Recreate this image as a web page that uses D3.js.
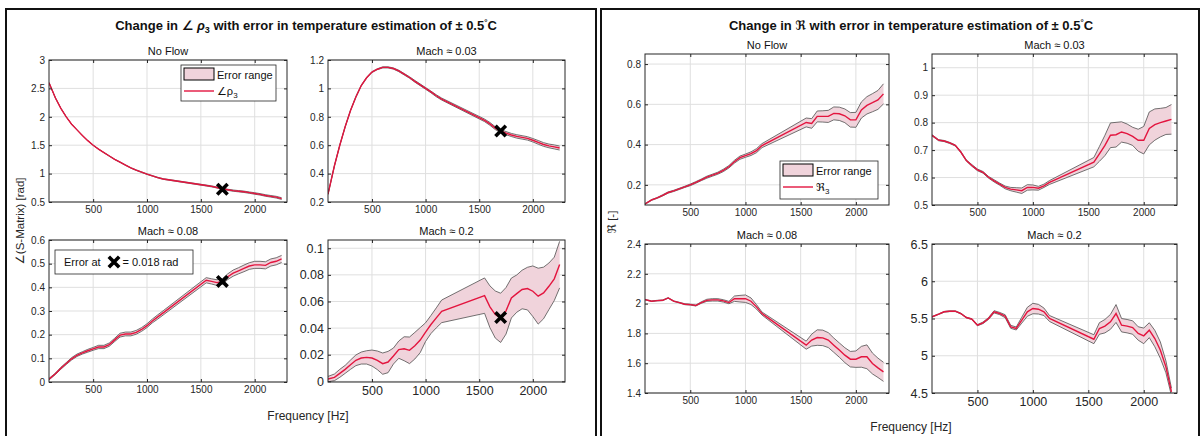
<!DOCTYPE html>
<html>
<head>
<meta charset="utf-8">
<script src="https://cdn.jsdelivr.net/npm/d3@7"></script>
<style>
  body { margin: 0; background: #fff; }
  svg { font-family: "Liberation Sans", Arial, "DejaVu Sans", sans-serif; }
</style>
</head>
<body>
<div id="chart"></div>
<script>
// ---- data ----
var freq = [90,150,200,250,300,350,400,450,500,550,600,650,700,750,800,850,900,950,1000,1050,
            1100,1150,1550,1600,1650,1700,1750,1800,1850,1900,1950,2000,2050,2100,2150,2200,2250];

var titles = ["No Flow", "Mach \u2248 0.03", "Mach \u2248 0.08", "Mach \u2248 0.2"];
var xTicks = [500, 1000, 1500, 2000];

// angle of rho_3 [rad], centre value and half width of error band
var rhoNoFlow    = [2.6,2.33,2.15,2.0,1.87,1.77,1.67,1.58,1.5,1.43,1.37,1.31,1.25,1.2,1.15,1.1,1.06,1.025,0.99,0.96,
                    0.93,0.905,0.79,0.775,0.755,0.73,0.715,0.7,0.69,0.68,0.665,0.65,0.635,0.615,0.6,0.585,0.56];
var rhoNoFlowErr = [0.002,0.002,0.002,0.002,0.002,0.003,0.003,0.003,0.003,0.003,0.003,0.004,0.004,0.004,0.004,0.004,0.005,0.005,0.005,0.005,
                    0.005,0.006,0.008,0.009,0.009,0.01,0.01,0.011,0.011,0.012,0.012,0.013,0.013,0.014,0.014,0.015,0.015];
var rhoM003      = [0.255,0.455,0.6,0.73,0.845,0.94,1.02,1.075,1.115,1.135,1.148,1.148,1.14,1.123,1.1,1.077,1.05,1.025,1.0,0.975,
                    0.948,0.925,0.775,0.75,0.72,0.70,0.685,0.672,0.662,0.655,0.648,0.635,0.62,0.605,0.595,0.588,0.58];
var rhoM003Err   = [0.002,0.002,0.002,0.002,0.002,0.003,0.003,0.003,0.003,0.003,0.004,0.004,0.004,0.005,0.005,0.005,0.006,0.006,0.006,0.006,
                    0.007,0.007,0.009,0.01,0.01,0.011,0.011,0.011,0.012,0.012,0.012,0.012,0.013,0.013,0.013,0.014,0.014];
var rhoM008      = [0.012,0.035,0.058,0.078,0.098,0.113,0.123,0.132,0.14,0.148,0.148,0.158,0.178,0.198,0.203,0.203,0.21,0.222,0.238,0.258,
                    0.275,0.292,0.43,0.425,0.42,0.425,0.445,0.46,0.47,0.48,0.49,0.495,0.495,0.493,0.505,0.51,0.52];
var rhoM008Err   = [0.003,0.003,0.004,0.004,0.005,0.005,0.005,0.006,0.006,0.007,0.007,0.007,0.007,0.008,0.008,0.008,0.008,0.008,0.008,0.008,
                    0.009,0.009,0.011,0.011,0.012,0.012,0.012,0.013,0.013,0.014,0.014,0.015,0.015,0.015,0.015,0.015,0.015];
var rhoM02       = [0.0017,0.003,0.006,0.009,0.0125,0.0158,0.0175,0.018,0.0175,0.0158,0.0133,0.0145,0.019,0.0238,0.0245,0.0233,0.0268,0.031,0.037,0.0427,
                    0.0477,0.0526,0.0644,0.056,0.0502,0.0477,0.053,0.0626,0.0659,0.069,0.0697,0.0677,0.064,0.0664,0.0714,0.077,0.0877];
var rhoM02Err    = [0.002,0.0025,0.003,0.003,0.0035,0.004,0.0045,0.005,0.006,0.007,0.008,0.008,0.006,0.0065,0.009,0.01,0.01,0.0094,0.007,0.0068,
                    0.0075,0.0085,0.0133,0.0157,0.0177,0.0185,0.0175,0.015,0.014,0.0145,0.016,0.019,0.021,0.0194,0.0175,0.0163,0.0175];

// real part R_3 [-]
var reNoFlow     = [0.105,0.125,0.135,0.148,0.162,0.17,0.18,0.19,0.2,0.212,0.225,0.238,0.248,0.258,0.272,0.29,0.315,0.335,0.345,0.355,
                    0.37,0.395,0.51,0.505,0.54,0.54,0.54,0.555,0.553,0.543,0.523,0.523,0.572,0.595,0.608,0.622,0.652];
var reNoFlowErr  = [0.002,0.002,0.002,0.003,0.003,0.003,0.003,0.003,0.004,0.004,0.004,0.005,0.005,0.005,0.006,0.006,0.007,0.008,0.008,0.009,
                    0.01,0.01,0.022,0.024,0.027,0.028,0.03,0.032,0.033,0.034,0.036,0.037,0.04,0.043,0.045,0.047,0.05];
var reM003       = [0.754,0.736,0.733,0.726,0.717,0.693,0.662,0.644,0.628,0.619,0.601,0.588,0.576,0.564,0.558,0.555,0.552,0.564,0.564,0.561,
                    0.57,0.582,0.656,0.686,0.717,0.754,0.756,0.766,0.76,0.75,0.736,0.736,0.779,0.793,0.8,0.806,0.812];
var reM003Err    = [0.002,0.002,0.002,0.002,0.002,0.002,0.002,0.003,0.003,0.003,0.003,0.004,0.004,0.005,0.006,0.008,0.01,0.01,0.009,0.007,
                    0.006,0.007,0.017,0.027,0.037,0.045,0.045,0.037,0.035,0.033,0.04,0.05,0.06,0.057,0.052,0.049,0.054];
var reM008       = [2.027,2.016,2.02,2.022,2.038,2.016,2.007,1.996,1.993,1.987,2.007,2.022,2.025,2.025,2.018,2.007,2.033,2.033,2.033,2.016,
                    1.978,1.933,1.721,1.755,1.772,1.77,1.755,1.721,1.688,1.654,1.627,1.627,1.643,1.643,1.598,1.569,1.542];
var reM008Err    = [0.002,0.002,0.002,0.002,0.002,0.002,0.002,0.003,0.003,0.003,0.005,0.007,0.008,0.008,0.008,0.008,0.018,0.022,0.025,0.022,
                    0.015,0.01,0.027,0.04,0.052,0.052,0.05,0.048,0.048,0.05,0.052,0.055,0.07,0.08,0.07,0.065,0.064];
var reM02        = [5.522,5.558,5.59,5.598,5.598,5.567,5.513,5.491,5.41,5.442,5.5,5.59,5.567,5.531,5.388,5.366,5.478,5.59,5.634,5.625,
                    5.59,5.5,5.222,5.366,5.397,5.455,5.567,5.41,5.397,5.379,5.299,5.267,5.343,5.231,5.075,4.851,4.515];
var reM02Err     = [0.004,0.004,0.005,0.005,0.005,0.005,0.005,0.006,0.008,0.01,0.012,0.015,0.015,0.02,0.02,0.02,0.04,0.06,0.07,0.065,
                    0.05,0.04,0.06,0.078,0.09,0.1,0.12,0.09,0.09,0.09,0.09,0.105,0.1,0.11,0.11,0.08,0.05];

// error markers (left figure)
var markerFreq = 1700;
var markerVals = [0.725, 0.70, 0.425, 0.048];

var rhoTicks = [[0.5,1,1.5,2,2.5,3], [0.2,0.4,0.6,0.8,1,1.2], [0,0.1,0.2,0.3,0.4,0.5,0.6], [0,0.02,0.04,0.06,0.08,0.1]];
var reTicks  = [[0.2,0.4,0.6,0.8], [0.5,0.6,0.7,0.8,0.9,1], [1.4,1.6,1.8,2,2.2,2.4], [4.5,5,5.5,6,6.5]];

// ---- drawing ----
var width = 1204, height = 436;
var red = "#e3153f", pink = "#f0d3db", edge = "#4f4f4f", ink = "#262626";

var svg = d3.select("#chart")
  .append("svg")
    .attr("width", width)
    .attr("height", height);

// figure frames
svg.append("rect").attr("x", 6).attr("y", 9).attr("width", 590).attr("height", 460)
  .attr("fill", "none").attr("stroke", "#111").attr("stroke-width", 2);
svg.append("rect").attr("x", 601).attr("y", 9).attr("width", 598).attr("height", 460)
  .attr("fill", "none").attr("stroke", "#111").attr("stroke-width", 2);

function fmt(v) { return String(+v.toFixed(3)); }

var clipId = 0;
function subplot(box, yDomain, yTicks, mid, err, title, fontSize, marker) {
  var x = d3.scaleLinear().domain([90, 2300]).range([box[0], box[1]]);
  var y = d3.scaleLinear().domain(yDomain).range([box[3], box[2]]);
  var g = svg.append("g");

  // grid
  g.selectAll(null).data(xTicks).enter().append("line")
    .attr("x1", function(d){ return x(d); }).attr("x2", function(d){ return x(d); })
    .attr("y1", box[2]).attr("y2", box[3])
    .attr("stroke", "#dfdfdf").attr("stroke-width", 1);
  g.selectAll(null).data(yTicks).enter().append("line")
    .attr("y1", function(d){ return y(d); }).attr("y2", function(d){ return y(d); })
    .attr("x1", box[0]).attr("x2", box[1])
    .attr("stroke", "#dfdfdf").attr("stroke-width", 1);

  // clip
  var id = "clip" + (clipId++);
  svg.append("clipPath").attr("id", id).append("rect")
    .attr("x", box[0]).attr("y", box[2]).attr("width", box[1] - box[0]).attr("height", box[3] - box[2]);
  var plot = g.append("g").attr("clip-path", "url(#" + id + ")");

  var area = d3.area()
    .x(function(d, i){ return x(freq[i]); })
    .y0(function(d, i){ return y(d - err[i]); })
    .y1(function(d, i){ return y(d + err[i]); });
  plot.append("path").datum(mid).attr("d", area).attr("fill", pink);

  var lo = d3.line().x(function(d, i){ return x(freq[i]); }).y(function(d, i){ return y(d - err[i]); });
  var hi = d3.line().x(function(d, i){ return x(freq[i]); }).y(function(d, i){ return y(d + err[i]); });
  plot.append("path").datum(mid).attr("d", lo).attr("fill", "none").attr("stroke", edge).attr("stroke-width", 0.8);
  plot.append("path").datum(mid).attr("d", hi).attr("fill", "none").attr("stroke", edge).attr("stroke-width", 0.8);

  var line = d3.line().x(function(d, i){ return x(freq[i]); }).y(function(d){ return y(d); });
  plot.append("path").datum(mid).attr("d", line).attr("fill", "none").attr("stroke", red).attr("stroke-width", 1.4);

  if (marker != null) cross(g, x(markerFreq), y(marker));

  // axes, ticks pointing inward
  function style(a) {
    a.attr("font-family", null).attr("font-size", fontSize).attr("color", ink);
    a.select(".domain").remove();
    a.selectAll("text").attr("fill", ink);
  }
  g.append("g").attr("transform", "translate(0," + box[3] + ")")
    .call(d3.axisBottom(x).tickValues(xTicks).tickSizeInner(-3).tickSizeOuter(0).tickPadding(4).tickFormat(d3.format("d")))
    .call(style);
  g.append("g").attr("transform", "translate(0," + box[2] + ")")
    .call(d3.axisTop(x).tickValues(xTicks).tickSizeInner(-3).tickSizeOuter(0).tickFormat(""))
    .call(style);
  g.append("g").attr("transform", "translate(" + box[0] + ",0)")
    .call(d3.axisLeft(y).tickValues(yTicks).tickSizeInner(-3).tickSizeOuter(0).tickPadding(4).tickFormat(fmt))
    .call(style);
  g.append("g").attr("transform", "translate(" + box[1] + ",0)")
    .call(d3.axisRight(y).tickValues(yTicks).tickSizeInner(-3).tickSizeOuter(0).tickFormat(""))
    .call(style);

  g.append("rect").attr("x", box[0]).attr("y", box[2])
    .attr("width", box[1] - box[0]).attr("height", box[3] - box[2])
    .attr("fill", "none").attr("stroke", ink).attr("stroke-width", 1);

  g.append("text").attr("x", (box[0] + box[1]) / 2).attr("y", box[2] - 5)
    .attr("text-anchor", "middle").attr("font-size", 11).attr("fill", "#111").text(title);
}

function cross(g, cx, cy) {
  var s = 5.2;
  g.append("path")
    .attr("d", "M" + (cx - s) + "," + (cy - s) + "L" + (cx + s) + "," + (cy + s) +
               "M" + (cx - s) + "," + (cy + s) + "L" + (cx + s) + "," + (cy - s))
    .attr("stroke", "#000").attr("stroke-width", 3.6).attr("fill", "none");
}

// left figure: angle of rho_3
subplot([49, 287, 60, 202],  [0.5, 3],          rhoTicks[0], rhoNoFlow, rhoNoFlowErr, titles[0], 10,   markerVals[0]);
subplot([328, 565, 60, 202], [0.2, 1.2],        rhoTicks[1], rhoM003,   rhoM003Err,   titles[1], 10,   markerVals[1]);
subplot([49, 287, 240, 382], [0, 0.6],          rhoTicks[2], rhoM008,   rhoM008Err,   titles[2], 10,   markerVals[2]);
subplot([328, 565, 240, 382],[-0.0005, 0.1062], rhoTicks[3], rhoM02,    rhoM02Err,    titles[3], 12.5, markerVals[3]);

// right figure: real part
subplot([645, 889, 54, 205],   [0.1, 0.85], reTicks[0], reNoFlow, reNoFlowErr, titles[0], 10,   null);
subplot([932, 1177, 54, 205],  [0.5, 1.05], reTicks[1], reM003,   reM003Err,   titles[1], 10,   null);
subplot([645, 889, 244, 393],  [1.4, 2.4],  reTicks[2], reM008,   reM008Err,   titles[2], 10,   null);
subplot([932, 1177, 244, 393], [4.5, 6.5],  reTicks[3], reM02,    reM02Err,    titles[3], 12.5, null);

// figure titles
var t1 = svg.append("text").attr("x", 306).attr("y", 30).attr("text-anchor", "middle")
  .attr("font-size", 13).attr("font-weight", "bold").attr("fill", "#111");
t1.append("tspan").text("Change in \u2220 ");
t1.append("tspan").attr("font-style", "italic").text("\u03c1");
t1.append("tspan").attr("font-size", 9).attr("dy", 3).text("3");
t1.append("tspan").attr("dy", -3).text(" with error in temperature estimation of \u00b1 0.5");
t1.append("tspan").attr("font-size", 8).attr("dy", -5).text("\u00b0");
t1.append("tspan").attr("dy", 5).text("C");

var t2 = svg.append("text").attr("x", 911).attr("y", 30).attr("text-anchor", "middle")
  .attr("font-size", 13).attr("font-weight", "bold").attr("fill", "#111");
t2.append("tspan").text("Change in \u211c with error in temperature estimation of \u00b1 0.5");
t2.append("tspan").attr("font-size", 8).attr("dy", -5).text("\u00b0");
t2.append("tspan").attr("dy", 5).text("C");

// axis labels
svg.append("text").attr("transform", "translate(24,221) rotate(-90)").attr("text-anchor", "middle")
  .attr("font-size", 11.5).attr("fill", ink).text("\u2220(S-Matrix) [rad]");
svg.append("text").attr("transform", "translate(616,222) rotate(-90)").attr("text-anchor", "middle")
  .attr("font-size", 11.5).attr("fill", ink).text("\u211c [-]");
svg.append("text").attr("x", 308).attr("y", 420).attr("text-anchor", "middle")
  .attr("font-size", 12).attr("fill", ink).text("Frequency [Hz]");
svg.append("text").attr("x", 911).attr("y", 431).attr("text-anchor", "middle")
  .attr("font-size", 12).attr("fill", ink).text("Frequency [Hz]");

// legends
function legend(x0, y0, w, h, label) {
  var g = svg.append("g");
  g.append("rect").attr("x", x0).attr("y", y0).attr("width", w).attr("height", h)
    .attr("fill", "#fff").attr("stroke", ink).attr("stroke-width", 0.8);
  g.append("rect").attr("x", x0 + 3).attr("y", y0 + 3).attr("width", 30).attr("height", 12)
    .attr("fill", pink).attr("stroke", "#000").attr("stroke-width", 1);
  g.append("text").attr("x", x0 + 36).attr("y", y0 + 13.5).attr("font-size", 11).attr("fill", "#111").text("Error range");
  g.append("line").attr("x1", x0 + 3).attr("x2", x0 + 33).attr("y1", y0 + 26).attr("y2", y0 + 26)
    .attr("stroke", red).attr("stroke-width", 1.4);
  var t = g.append("text").attr("x", x0 + 36).attr("y", y0 + 30).attr("font-size", 11).attr("fill", "#111");
  t.append("tspan").text(label);
  t.append("tspan").attr("font-size", 8).attr("dy", 3).text("3");
}
legend(181, 65, 95, 36, "\u2220\u03c1");
legend(780, 161, 98, 38, "\u211c");

// error annotation
var ann = svg.append("g");
ann.append("rect").attr("x", 55).attr("y", 250).attr("width", 138).attr("height", 24)
  .attr("fill", "#fff").attr("stroke", ink).attr("stroke-width", 0.8);
ann.append("text").attr("x", 64).attr("y", 266).attr("font-size", 11).attr("fill", "#111").text("Error at");
cross(ann, 114, 262);
ann.append("text").attr("x", 122.5).attr("y", 266).attr("font-size", 11).attr("fill", "#111").text("= 0.018 rad");
</script>
</body>
</html>
